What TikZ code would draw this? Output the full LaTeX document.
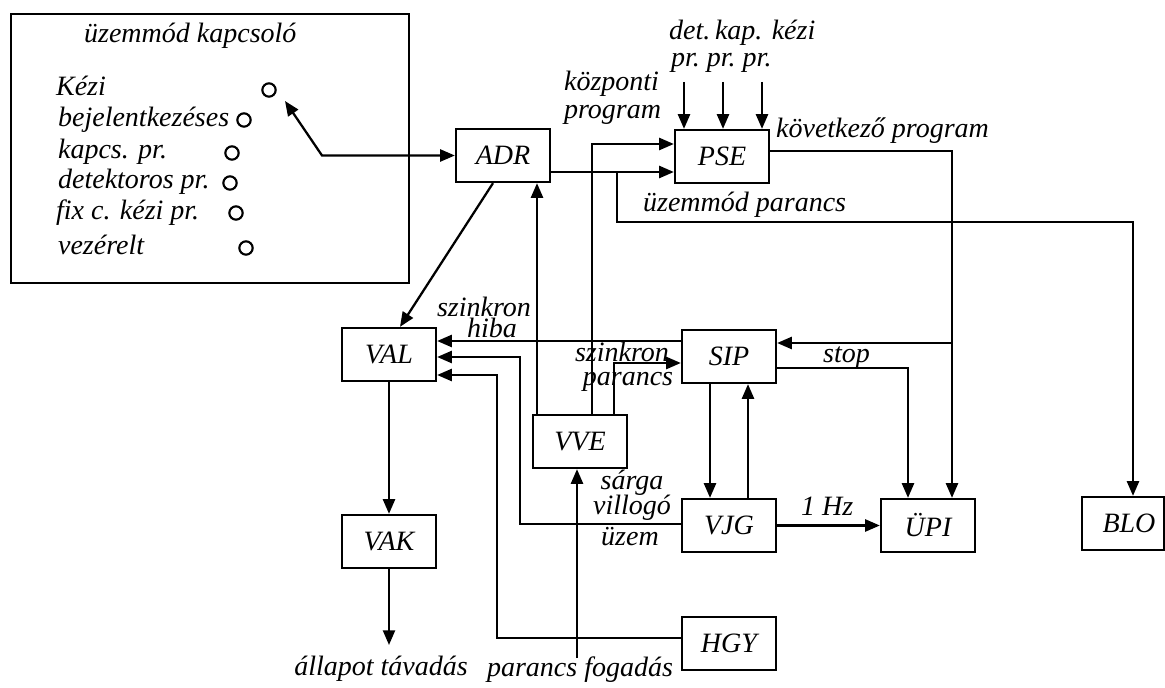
\documentclass[tikz,border=0pt]{standalone}
\usepackage{fontspec}
\setmainfont{Liberation Serif}
\usetikzlibrary{arrows.meta,calc}
\begin{document}
\begin{tikzpicture}[x=0.75pt,y=-0.75pt,line width=1.7pt,
  font=\fontsize{21}{23}\selectfont\itshape,
  box/.style={draw,minimum width=70.5pt,minimum height=39.75pt,inner sep=0pt},
  arr/.style={-{Triangle[length=11pt,width=9pt]}},
  darr/.style={{Triangle[length=11pt,width=9pt]}-{Triangle[length=11pt,width=9pt]}},
  lbl/.style={inner sep=0pt,anchor=base west},
  clbl/.style={inner sep=0pt,anchor=base},
  sw/.style={draw,circle,minimum size=10pt,inner sep=0pt,line width=1.6pt}]
\useasboundingbox (0,0) rectangle (1165,688);

% mode switch panel
\node[draw,minimum width=298.5pt,minimum height=201.75pt,inner sep=0pt] (panel) at (210,148.5) {};
\node[lbl] (ttl) at (83,43) {üzemmód kapcsoló};
\node[lbl] (t1) at (55,96) {Kézi};
\node[lbl] (t2) at (57,127) {bejelentkezéses};
\node[lbl] (t3) at (57,159) {kapcs. pr.};
\node[lbl] (t4) at (57,189) {detektoros pr.};
\node[lbl] (t5) at (55,220) {fix c. kézi pr.};
\node[lbl] (t6) at (57,255) {vezérelt};
\node[sw] (c1) at (269,90) {};
\node[sw] (c2) at (244,120) {};
\node[sw] (c3) at (232,153) {};
\node[sw] (c4) at (230,183) {};
\node[sw] (c5) at (236,213) {};
\node[sw] (c6) at (246,248) {};

% blocks
\node[box] (ADR) at (503,155.5) {ADR};
\node[box] (PSE) at (722,156.5) {PSE};
\node[box] (SIP) at (729,356.5) {SIP};
\node[box] (VAL) at (389,354.5) {VAL};
\node[box] (VVE) at (580,441.5) {VVE};
\node[box] (VJG) at (729,525.5) {VJG};
\node[box] (HGY) at (729,643.5) {HGY};
\node[box] (UPI) at (928,525.5) {ÜPI};
\node[box,minimum width=61.5pt] (BLO) at (1123,523.5) {\hspace*{9pt}BLO};
\node[box] (VAK) at (389,541.5) {VAK};

% coordinates
\coordinate (tipK) at (285,101);
\coordinate (k1) at (322,155.5);
\coordinate (j1) at (617,172);
\coordinate (cBLO) at (1133,222);
\coordinate (c144) at (592,144);
\coordinate (c363) at (614,363);
\coordinate (j2) at (952,343);
\coordinate (c520) at (520,357);
\coordinate (c497) at (497,375);
\coordinate (pf) at (577,658);
\coordinate (vout) at (389,645);
\coordinate (pin1) at (684,82);
\coordinate (pin2) at (723,82);
\coordinate (pin3) at (762,82);

% connectors
\draw[darr] (tipK) -- (k1) -- (k1 -| ADR.west);
\draw[arr] ($(ADR.south)+(-10,0)$) -- ($(VAL.north)+(11,0)$);
\draw[arr] ($(ADR.east)+(0,16.5)$) coordinate (adrO) -- (adrO -| PSE.west);
\draw[arr] (j1) |- (cBLO) -- (cBLO |- BLO.north);
\draw[arr] ($(VVE.north)+(-43,0)$) coordinate (v1) -- (v1 |- ADR.south);
\draw[arr] ($(VVE.north)+(12,0)$) |- (c144 -| PSE.west);
\draw[arr] ($(VVE.north)+(34,0)$) |- (c363 -| SIP.west);
\draw[arr] ($(SIP.west)+(0,-15.5)$) coordinate (s1) -- (s1 -| VAL.east);
\draw[arr] (pin1) -- (pin1 |- PSE.north);
\draw[arr] (pin2) -- (pin2 |- PSE.north);
\draw[arr] (pin3) -- (pin3 |- PSE.north);
\draw[arr] ($(PSE.east)+(0,-5.5)$) -| ($(UPI.north)+(24,0)$);
\draw[arr] (j2) -- (j2 -| SIP.east);
\draw[arr] ($(SIP.east)+(0,11.5)$) -| ($(UPI.north)+(-20,0)$);
\draw[arr] ($(SIP.south)+(-19,0)$) coordinate (s2) -- (s2 |- VJG.north);
\draw[arr] ($(VJG.north)+(19,0)$) coordinate (s3) -- (s3 |- SIP.south);
\draw[arr] (VJG.east) -- (VJG.east -| UPI.west);
\draw[arr] ($(VJG.west)+(0,-1.5)$) -| (c520) -- (c520 -| VAL.east);
\draw[arr] ($(HGY.west)+(0,-5.5)$) -| (c497) -- (c497 -| VAL.east);
\draw[arr] (pf) -- (pf |- VVE.south);
\draw[arr] (VAL.south) -- (VAK.north);
\draw[arr] (VAK.south) -- (vout);

% labels
\node[lbl] (l1) at (668,40) {det.\,kap. kézi};
\node[lbl] (l2) at (670,67) {pr.\ pr.\ pr.};
\node[lbl] (l3) at (563,91) {központi};
\node[lbl] (l4) at (563,119) {program};
\node[lbl] (l5) at (775,138) {következő program};
\node[lbl] (l6) at (642,212) {üzemmód parancs};
\node[clbl] (l7) at (484,316) {szinkron};
\node[clbl] (l8) at (492,337) {hiba};
\node[clbl] (l9) at (622,361) {szinkron};
\node[clbl] (l10) at (628,385) {parancs};
\node[lbl] (l11) at (822,363) {stop};
\node[lbl] (l12) at (800,515) {1 Hz};
\node[clbl] (l13) at (632,489) {sárga};
\node[clbl] (l14) at (632,514) {villogó};
\node[clbl] (l15) at (630,545) {üzem};
\node[clbl] (l16) at (580,676) {parancs fogadás};
\node[clbl] (l17) at (381,675) {állapot távadás};
\end{tikzpicture}
\end{document}
